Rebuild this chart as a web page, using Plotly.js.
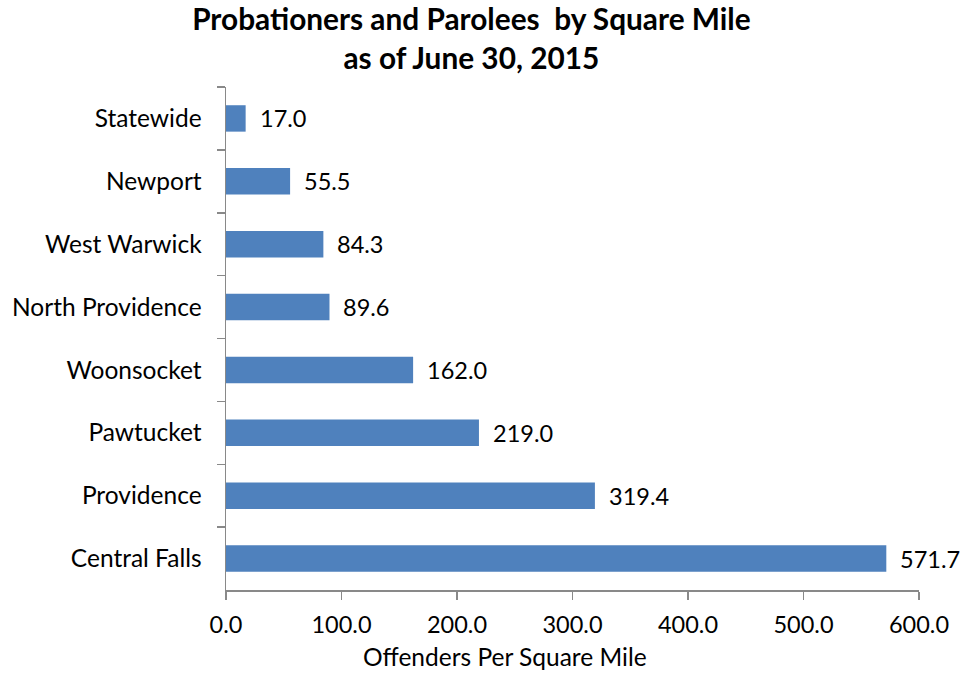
<!DOCTYPE html>
<html>
<head>
<meta charset="utf-8">
<script src="https://cdn.plot.ly/plotly-3.0.1.min.js"></script>
<style>html,body{margin:0;padding:0;background:#fff}#chart{width:964px;height:673px}</style>
</head>
<body>
<div id="chart"></div>
<script>
const categories = ["Statewide","Newport","West Warwick","North Providence","Woonsocket","Pawtucket","Providence","Central Falls"];
const values = [17.0, 55.5, 84.3, 89.6, 162.0, 219.0, 319.4, 571.7];
const xTickVals = [0,100,200,300,400,500,600];
const xTickText = ["0.0","100.0","200.0","300.0","400.0","500.0","600.0"];
const xTitle = "Offenders Per Square Mile";

const font = "Lato, 'Open Sans', sans-serif";
const trace = {
  type: "bar", orientation: "h",
  x: values, y: categories,
  marker: {color: "#4f81bd", line: {color: "#4f81bd", width: 0}},
  width: 0.42,
  hoverinfo: "x+y"
};
const annotations = values.map((v, i) => ({
  x: v, y: categories[i], xref: "x", yref: "y",
  text: v.toFixed(1), showarrow: false, xanchor: "left", xshift: 12,
  font: {family: font, size: 23.5, color: "#000"}
}));
annotations.push({
  x: 0.4026, y: -0.132, xref: "paper", yref: "paper",
  xanchor: "center", yanchor: "middle", showarrow: false, borderpad: 0,
  text: xTitle, font: {family: font, size: 24.5, color: "#000"}
});
const layout = {
  width: 964, height: 673,
  margin: {l: 226, r: 45, t: 87, b: 83},
  paper_bgcolor: "#fff", plot_bgcolor: "#fff",
  showlegend: false,
  title: {text: "<b>Probationers and Parolees  by Square Mile<br>as of June 30, 2015</b>",
    font: {family: font, size: 29.8, color: "#000"}, x: 0.489, xanchor: "center", y: 0.955, yanchor: "top"},
  xaxis: {range: [0, 600], tickvals: xTickVals, ticktext: xTickText,
    showgrid: false, zeroline: false, showline: true, linecolor: "#898989", linewidth: 1.5,
    ticks: "outside", ticklen: 8, tickcolor: "#898989", tickwidth: 1.5,
    tickfont: {family: font, size: 23.5, color: "#000"}, ticklabelstandoff: 5},
  yaxis: {type: "category", autorange: "reversed",
    showgrid: false, zeroline: false, showline: true, linecolor: "#898989", linewidth: 1.5,
    ticks: "outside", ticklen: 8, tickcolor: "#898989", tickwidth: 1.5, tickson: "boundaries",
    tickfont: {family: font, size: 24.5, color: "#000"}, ticklabelstandoff: 18},
  annotations: annotations
};
Plotly.newPlot("chart", [trace], layout, {displayModeBar: false, staticPlot: true});
</script>
</body>
</html>
